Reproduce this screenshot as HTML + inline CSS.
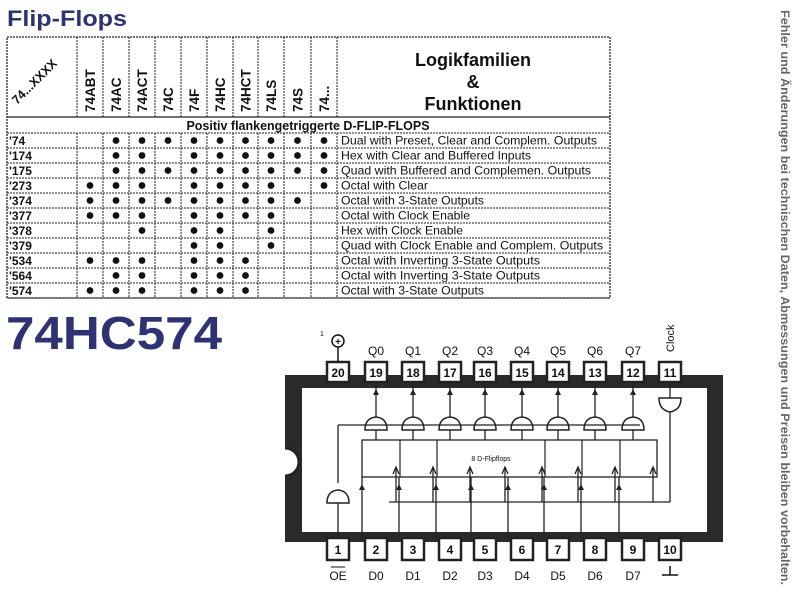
<!DOCTYPE html>
<html><head><meta charset="utf-8"><style>
html,body{margin:0;padding:0;background:#fff;width:800px;height:600px;overflow:hidden}
svg{display:block}
text{font-family:"Liberation Sans",Arial,sans-serif}
</style></head><body>
<svg id="s" width="800" height="600" xmlns="http://www.w3.org/2000/svg">
<text x="7" y="26" font-size="22" font-weight="bold" fill="#2e3272" textLength="120" lengthAdjust="spacingAndGlyphs">Flip-Flops</text>
<text x="6" y="349" font-size="46" font-weight="bold" fill="#2e3272" textLength="216" lengthAdjust="spacingAndGlyphs">74HC574</text>
<text transform="translate(781,10) rotate(90)" font-size="12" font-weight="bold" fill="#666" textLength="575" lengthAdjust="spacingAndGlyphs">Fehler und Änderungen bei technischen Daten, Abmessungen und Preisen bleiben vorbehalten.</text>
<g id="tbl"></g>
<g id="chip"></g>
</svg>
<script>
var NS="http://www.w3.org/2000/svg";
function el(p,t,a,tx){var e=document.createElementNS(NS,t);for(var k in a)e.setAttribute(k,a[k]);if(tx!=null)e.textContent=tx;p.appendChild(e);return e;}
var T=document.getElementById('tbl');
var cols=[77,103,129,155,181,207,233,258,284,311,337];
var L=7,R=610;
var rowsY=[133,148,163,178,193,208,223,238,253,268,283,298];
el(T,'rect',{x:L,y:37,width:R-L,height:261,fill:'none',stroke:'#222','stroke-width':1.3,'stroke-dasharray':'2,1'});
cols.forEach(function(x){el(T,'line',{x1:x,y1:37,x2:x,y2:117,stroke:'#222','stroke-width':1,'stroke-dasharray':'2,1'});
 el(T,'line',{x1:x,y1:133,x2:x,y2:298,stroke:'#222','stroke-width':1,'stroke-dasharray':'2,1'});});
el(T,'line',{x1:L,y1:117,x2:R,y2:117,stroke:'#222','stroke-width':1.3});
rowsY.forEach(function(y){el(T,'line',{x1:L,y1:y,x2:R,y2:y,stroke:'#222','stroke-width':1,'stroke-dasharray':'2,1'});});
var hn=['74ABT','74AC','74ACT','74C','74F','74HC','74HCT','74LS','74S','74...'];
hn.forEach(function(n,i){var cx=(cols[i]+cols[i+1])/2+5;el(T,'text',{transform:'translate('+cx+',112) rotate(-90)','font-size':13.5,'font-weight':'bold',fill:'#111'},n);});
el(T,'text',{transform:'translate(17,105) rotate(-45)','font-size':12.5,'font-weight':'bold',fill:'#111'},'74...XXXX');
el(T,'text',{x:473,y:66,'font-size':18,'font-weight':'bold','text-anchor':'middle',fill:'#111'},'Logikfamilien');
el(T,'text',{x:473,y:88,'font-size':18,'font-weight':'bold','text-anchor':'middle',fill:'#111'},'&');
el(T,'text',{x:473,y:110,'font-size':18,'font-weight':'bold','text-anchor':'middle',fill:'#111'},'Funktionen');
el(T,'text',{x:308,y:130,'font-size':12.5,'font-weight':'bold','text-anchor':'middle',fill:'#111'},'Positiv flankengetriggerte D-FLIP-FLOPS');
var rows=[["'74","0111111111","Dual with Preset, Clear and Complem. Outputs",256],
["'174","0110111111","Hex with Clear and Buffered Inputs",190],
["'175","0111111111","Quad with Buffered and Complemen. Outputs",250],
["'273","1110111101","Octal with Clear",87],
["'374","1111111110","Octal with 3-State Outputs",143],
["'377","1110111100","Octal with Clock Enable",129],
["'378","0010110100","Hex with Clock Enable",122],
["'379","0000110100","Quad with Clock Enable and Complem. Outputs",262],
["'534","1110111000","Octal with Inverting 3-State Outputs",199],
["'564","0110111000","Octal with Inverting 3-State Outputs",199],
["'574","1110111000","Octal with 3-State Outputs",143]];
rows.forEach(function(r,i){var y=rowsY[i]+12;
 el(T,'text',{x:9,y:y,'font-size':12,'font-weight':'bold',fill:'#111'},r[0]);
 for(var j=0;j<10;j++)if(r[1][j]=='1')el(T,'circle',{cx:(cols[j]+cols[j+1])/2,cy:rowsY[i]+7.5,r:3.4,fill:'#111'});
 el(T,'text',{x:341,y:y-0.5,'font-size':12,fill:'#111',textLength:r[3],lengthAdjust:'spacingAndGlyphs'},r[2]);
});
var C=document.getElementById('chip');
el(C,'rect',{x:285,y:375,width:438,height:167,fill:'#2a2a2a'});
el(C,'rect',{x:302,y:388,width:405,height:144,fill:'#fff'});
el(C,'path',{d:'M285,448 a14,14 0 0 1 0,28 z',fill:'#fff'});
el(C,'path',{d:'M285,448 a14,14 0 0 1 0,28',stroke:'#222','stroke-width':3,fill:'none'});
var px=[338,376,413,450,485,522,558,595,633,670];
var tn=['20','19','18','17','16','15','14','13','12','11'];
var bn=['1','2','3','4','5','6','7','8','9','10'];
var tl=['','Q0','Q1','Q2','Q3','Q4','Q5','Q6','Q7',''];
var bl=['OE','D0','D1','D2','D3','D4','D5','D6','D7',''];
px.forEach(function(x,i){
 el(C,'rect',{x:x-11,y:362,width:22,height:20,fill:'#fff',stroke:'#222','stroke-width':2.5});
 el(C,'text',{x:x,y:377,'font-size':12,'font-weight':'bold','text-anchor':'middle',fill:'#111'},tn[i]);
 el(C,'rect',{x:x-11,y:538,width:22,height:22,fill:'#fff',stroke:'#222','stroke-width':2.5});
 el(C,'text',{x:x,y:554,'font-size':12,'font-weight':'bold','text-anchor':'middle',fill:'#111'},bn[i]);
 if(tl[i])el(C,'text',{x:x,y:355,'font-size':12,'text-anchor':'middle',fill:'#111'},tl[i]);
 if(bl[i])el(C,'text',{x:x,y:580,'font-size':12,'text-anchor':'middle',fill:'#111'},bl[i]);
});
el(C,'line',{x1:331,y1:567,x2:345,y2:567,stroke:'#111','stroke-width':1});
el(C,'line',{x1:662,y1:575,x2:678,y2:575,stroke:'#111','stroke-width':1.5});
el(C,'line',{x1:670,y1:566,x2:670,y2:575,stroke:'#111','stroke-width':1.5});
el(C,'circle',{cx:338,cy:341,r:6,fill:'#fff',stroke:'#111','stroke-width':1.5});
el(C,'text',{x:338,y:345,'font-size':10,'font-weight':'bold','text-anchor':'middle',fill:'#111'},'+');
el(C,'line',{x1:338,y1:347,x2:338,y2:362,stroke:'#111','stroke-width':1.5});
el(C,'text',{x:320,y:336,'font-size':7,fill:'#111'},'1');
el(C,'text',{transform:'translate(674,352) rotate(-90)','font-size':11,fill:'#111'},'Clock');
el(C,'rect',{x:362,y:440,width:295,height:37,fill:'none',stroke:'#222','stroke-width':1.3});
[400,437,545,582,620].forEach(function(x){el(C,'line',{x1:x,y1:440,x2:x,y2:477,stroke:'#222','stroke-width':1.2});});
el(C,'text',{x:491,y:461,'font-size':7,'text-anchor':'middle',fill:'#111'},'8 D-Flipflops');
for(var i=1;i<9;i++){var x=px[i];
 el(C,'path',{d:'M'+(x-11)+',430 L'+(x+11)+',430 Q'+(x+11)+',418 '+x+',417 Q'+(x-11)+',418 '+(x-11)+',430 z',fill:'#fff',stroke:'#222','stroke-width':1.5});
 el(C,'line',{x1:x,y1:382,x2:x,y2:417,stroke:'#222','stroke-width':1.3});
 el(C,'path',{d:'M'+(x-3)+',395 L'+x+',389 L'+(x+3)+',395 z',fill:'#222'});
 el(C,'line',{x1:x,y1:430,x2:x,y2:440,stroke:'#222','stroke-width':1.3});
 el(C,'line',{x1:x-14,y1:477,x2:x-14,y2:538,stroke:'#222','stroke-width':1.3});
 el(C,'path',{d:'M'+(x-17)+',490 L'+(x-14)+',484 L'+(x-11)+',490 z',fill:'#222'});
 el(C,'line',{x1:x+20,y1:467,x2:x+20,y2:502,stroke:'#222','stroke-width':1.3});
 el(C,'path',{d:'M'+(x+17)+',474 L'+(x+20)+',467 L'+(x+23)+',474',fill:'none',stroke:'#222','stroke-width':1.3});
}
el(C,'line',{x1:338,y1:425,x2:640,y2:425,stroke:'#222','stroke-width':1.3});
el(C,'line',{x1:338,y1:425,x2:338,y2:483,stroke:'#222','stroke-width':1.3});
el(C,'path',{d:'M327,503 L349,503 Q349,491 338,490 Q327,491 327,503 z',fill:'#fff',stroke:'#222','stroke-width':1.5});
el(C,'line',{x1:338,y1:503,x2:338,y2:538,stroke:'#222','stroke-width':1.3});
el(C,'path',{d:'M659,398 L681,398 Q681,410 670,412 Q659,410 659,398 z',fill:'#fff',stroke:'#222','stroke-width':1.5});
el(C,'line',{x1:670,y1:382,x2:670,y2:398,stroke:'#222','stroke-width':1.3});
el(C,'line',{x1:670,y1:412,x2:670,y2:502,stroke:'#222','stroke-width':1.3});
el(C,'line',{x1:389,y1:502,x2:670,y2:502,stroke:'#222','stroke-width':1.3});
</script>
</body></html>
